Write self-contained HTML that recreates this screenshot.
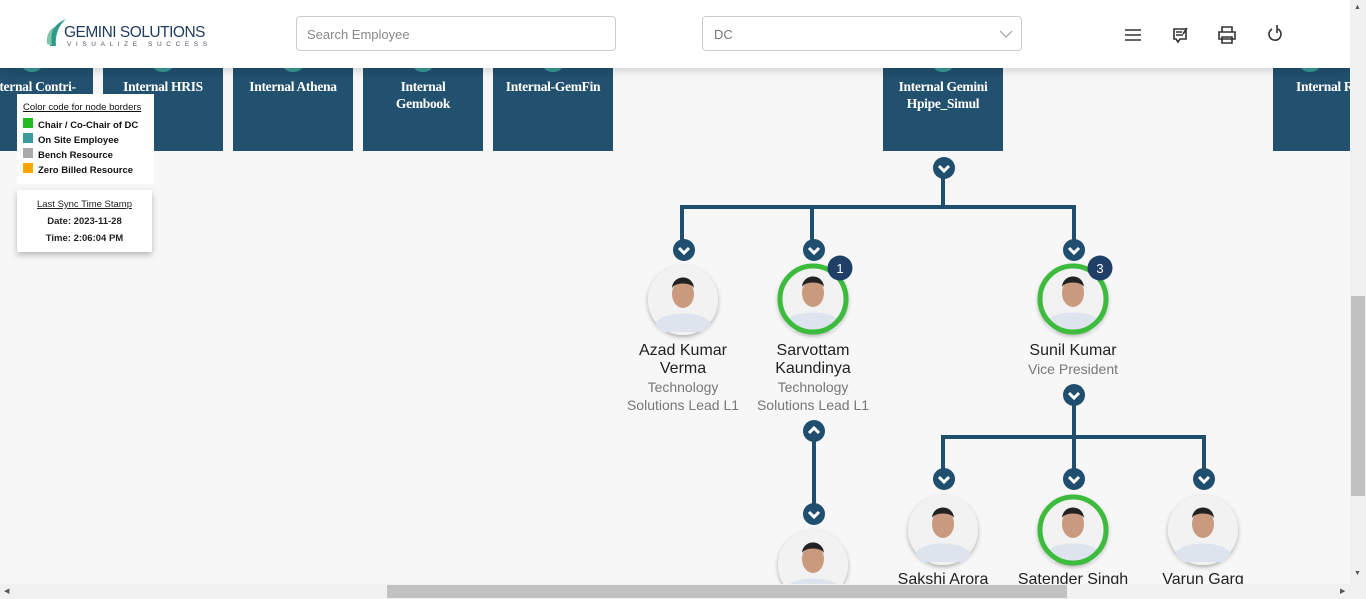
<!DOCTYPE html>
<html><head><meta charset="utf-8"><style>
*{margin:0;padding:0;box-sizing:border-box}
body{width:1366px;height:599px;overflow:hidden;background:#f7f7f7;font-family:"Liberation Sans",sans-serif;position:relative}
.abs{position:absolute}
.box{position:absolute;top:68px;height:83px;background:#22506f;color:#fff;font-family:"Liberation Serif",serif;font-weight:bold;font-size:13.5px;text-align:center;padding-top:10px;line-height:17px;overflow:hidden;letter-spacing:-.3px}
.box i{position:absolute;left:50%;top:-10px;width:20px;height:14px;margin-left:-10px;border-radius:50%;background:#3a9a96}
.nm{position:absolute;width:130px;text-align:center;font-size:16px;color:#222;line-height:18px}
.tt{position:absolute;width:130px;text-align:center;font-size:14px;color:#777;line-height:18px}
</style></head><body>
<div class="box" style="left:-30px;width:123px">Internal Contri-<br>Ne<i></i></div>
<div class="box" style="left:103px;width:120px">Internal HRIS<i></i></div>
<div class="box" style="left:233px;width:120px">Internal Athena<i></i></div>
<div class="box" style="left:363px;width:120px">Internal<br>Gembook<i></i></div>
<div class="box" style="left:493px;width:120px">Internal-GemFin<i></i></div>
<div class="box" style="left:883px;width:120px">Internal Gemini<br>Hpipe_Simul<i></i></div>
<div class="box" style="left:1273px;width:120px;text-align:left;padding-left:23px">Internal R<i style="left:37px"></i></div>

<div class="abs" style="left:0;top:0;width:1350px;height:68px;background:#fff;box-shadow:0 3px 8px rgba(0,0,0,.15)"></div>
<svg class="abs" style="left:46px;top:18px" width="22" height="30"><path d="M4 28 C2 16 8 6 20 1 C12 8 9 18 10 28Z" fill="#2e9a8a"/><path d="M1 26 C0 18 3 12 8 9 C5 15 5 21 6 27Z" fill="#7fc6a8"/></svg>
<div class="abs" style="left:64px;top:24px;font-size:15.5px;color:#1f3b5c;letter-spacing:-.5px">GEMINI SOLUTIONS</div>
<div class="abs" style="left:67px;top:41px;font-size:6.5px;color:#556;letter-spacing:4.6px">VISUALIZE SUCCESS</div>
<div class="abs" style="left:296px;top:16px;width:320px;height:35px;border:1px solid #ccc;border-radius:4px;font-size:13px;color:#888;padding:10px 10px">Search Employee</div>
<div class="abs" style="left:702px;top:16px;width:320px;height:35px;border:1px solid #ccc;border-radius:4px;font-size:13px;color:#777;padding:10px 11px">DC</div>
<svg class="abs" style="left:998px;top:29px" width="16" height="10"><path d="M2 2 L8 8 L14 2" stroke="#999" fill="none"/></svg>
<svg class="abs" style="left:1120px;top:22px" width="170" height="26" fill="none" stroke="#333" stroke-width="1.6">
<path d="M5 8h16M5 13h16M5 18h16"/>
<path d="M54 7h12v10h-6l-2 3-2-3h-2z M56 10h6M56 13h7M63 12l4-6"/>
<path d="M102 10V5h10v5M99 10h16v7H99z M102 15h10v6h-10z"/>
<path d="M152 7a6 6 0 1 0 6 0M157 3v8"/>
</svg>
<div class="abs" style="left:1350px;top:0;width:16px;height:599px;background:#f1f1f1"></div>
<div class="abs" style="left:1351px;top:296px;width:14px;height:200px;background:#c1c1c1"></div>
<div class="abs" style="left:1354px;top:4px;font-size:7px;color:#555">▲</div>
<div class="abs" style="left:1354px;top:570px;font-size:7px;color:#555">▼</div>

<div class="abs" style="left:17px;top:94px;width:137px;height:90px;background:#fff;font-size:10px;color:#111;padding:6px 0 0 6px;line-height:15px">
<div style="text-decoration:underline;font-size:9.5px">Color code for node borders</div>
<div style="margin-top:3px;font-weight:bold;font-size:9.5px"><span style="display:inline-block;width:10px;height:10px;background:#22bb22;margin-right:5px"></span>Chair / Co-Chair of DC<br><span style="display:inline-block;width:10px;height:10px;background:#3a9a9a;margin-right:5px"></span>On Site Employee<br><span style="display:inline-block;width:10px;height:10px;background:#aaa;margin-right:5px"></span>Bench Resource<br><span style="display:inline-block;width:10px;height:10px;background:#ffa500;margin-right:5px"></span>Zero Billed Resource</div></div>
<div class="abs" style="left:17px;top:190px;width:135px;height:62px;background:#fff;box-shadow:0 3px 6px rgba(0,0,0,.25);font-size:9.5px;text-align:center;color:#222;padding-top:6px;line-height:17px">
<div style="text-decoration:underline">Last Sync Time Stamp</div><b>Date: 2023-11-28<br>Time: 2:06:04 PM</b></div>

<svg class="abs" style="left:0;top:0" width="1350" height="584">
<defs><filter id="s"><feDropShadow dx="0" dy="2" stdDeviation="2" flood-opacity=".3"/></filter>
<g id="cd"><circle r="11" fill="#1f4e6e"/><path d="M-5 -2 L0 3 L5 -2" stroke="#fff" stroke-width="3" fill="none"/></g>
<g id="cu"><circle r="11" fill="#1f4e6e"/><path d="M-5 2 L0 -3 L5 2" stroke="#fff" stroke-width="3" fill="none"/></g>
<g id="av"><circle r="35" fill="#f2f2f2" filter="url(#s)"/><ellipse cx="0" cy="-6" rx="11" ry="14" fill="#c99a7e"/><path d="M-11 -12 C-10 -26 10 -26 11 -12 C8 -18 -8 -18 -11 -12Z" fill="#222"/><path d="M-28 24 C-22 10 22 10 28 24 L20 32 H-20Z" fill="#dde4ee"/></g>
</defs>
<g stroke="#1f4e6e" stroke-width="4" fill="none">
<path d="M943 178V207M682 207H1074M682 205V240M812 207V240M1074 205V240"/>
<path d="M1074 405V437M943 437H1204M943 435V470M1074 437V470M1204 435V470"/>
<path d="M814 441V505"/>
</g>
<use href="#cd" x="944" y="168"/>
<use href="#cd" x="684" y="250"/><use href="#cd" x="814" y="250"/><use href="#cd" x="1074" y="250"/>
<use href="#cd" x="1074" y="395"/><use href="#cu" x="814" y="431"/><use href="#cd" x="814" y="514"/>
<use href="#cd" x="944" y="479"/><use href="#cd" x="1074" y="479"/><use href="#cd" x="1204" y="479"/>
<use href="#av" x="683" y="300"/>
<use href="#av" x="813" y="299"/><circle cx="813" cy="299" r="33" stroke="#3dbb3d" stroke-width="5" fill="none"/>
<use href="#av" x="1073" y="299"/><circle cx="1073" cy="299" r="33" stroke="#3dbb3d" stroke-width="5" fill="none"/>
<circle cx="840" cy="268" r="12.5" fill="#1f3f66"/><text x="840" y="273" fill="#fff" font-size="13" text-anchor="middle" font-family="Liberation Sans">1</text>
<circle cx="1100" cy="268" r="12.5" fill="#1f3f66"/><text x="1100" y="273" fill="#fff" font-size="13" text-anchor="middle" font-family="Liberation Sans">3</text>
<use href="#av" x="943" y="530"/>
<use href="#av" x="1073" y="530"/><circle cx="1073" cy="530" r="33" stroke="#3dbb3d" stroke-width="5" fill="none"/>
<use href="#av" x="1203" y="530"/>
<use href="#av" x="813" y="565"/>
</svg>

<div class="nm" style="left:618px;top:342px">Azad Kumar<br>Verma</div>
<div class="tt" style="left:618px;top:378px">Technology<br>Solutions Lead L1</div>
<div class="nm" style="left:748px;top:342px">Sarvottam<br>Kaundinya</div>
<div class="tt" style="left:748px;top:378px">Technology<br>Solutions Lead L1</div>
<div class="nm" style="left:1008px;top:342px">Sunil Kumar</div>
<div class="tt" style="left:1008px;top:360px">Vice President</div>
<div class="nm" style="left:878px;top:571px">Sakshi Arora</div>
<div class="nm" style="left:1008px;top:571px">Satender Singh</div>
<div class="nm" style="left:1138px;top:571px">Varun Garg</div>

<div class="abs" style="left:0;top:584px;width:1350px;height:15px;background:#f1f1f1"></div>
<div class="abs" style="left:387px;top:585px;width:680px;height:13px;background:#c1c1c1"></div>
<div class="abs" style="left:4px;top:587px;font-size:7px;color:#555">◀</div>
<div class="abs" style="left:1340px;top:587px;font-size:7px;color:#555">▶</div>
</body></html>
